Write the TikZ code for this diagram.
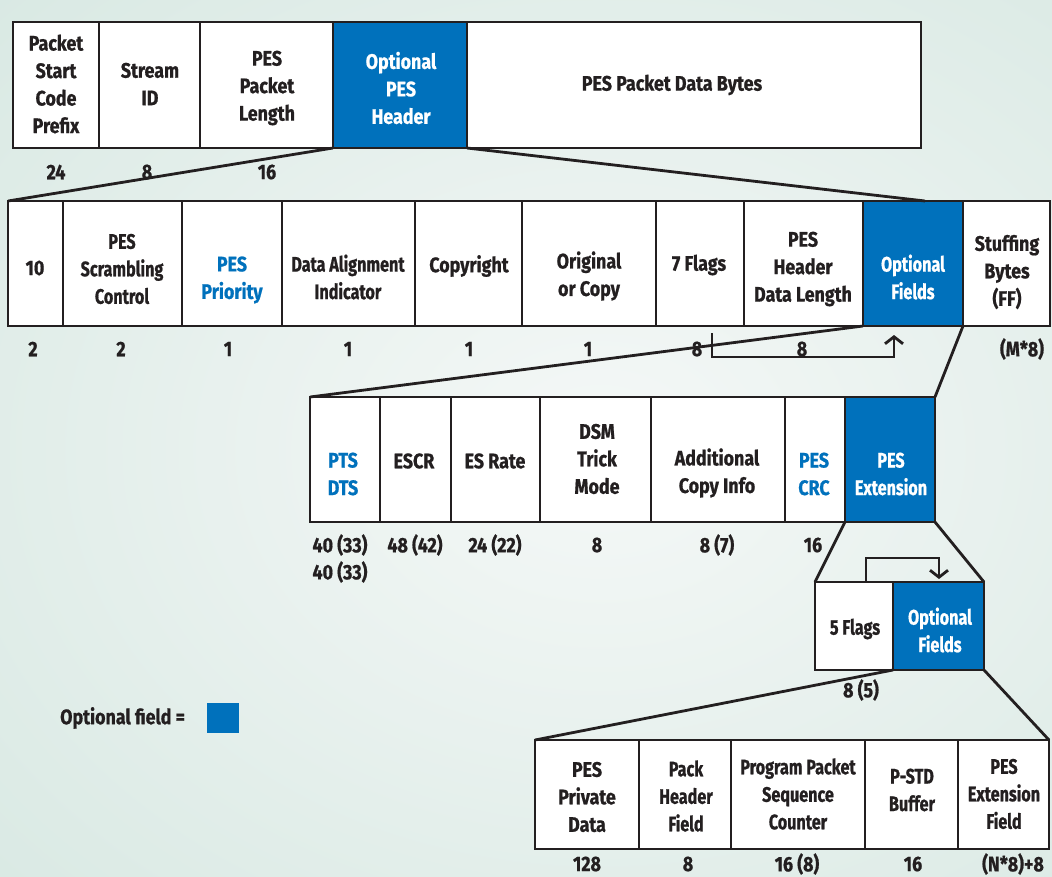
\documentclass[tikz,border=0pt]{standalone}
\usepackage{fontspec}
\setmainfont{Fira Sans}[FakeStretch=0.85, BoldFeatures={FakeBold=0.8}]
\newfontfamily\narrowfam{Fira Sans}[FakeStretch=0.77, BoldFeatures={FakeBold=0.8}]
\usetikzlibrary{arrows.meta}
\definecolor{ink}{HTML}{231F20}
\definecolor{optblue}{HTML}{0071BC}
\definecolor{bgout}{HTML}{D7E8E2}
\definecolor{bgin}{HTML}{F5F8F7}
\begin{document}
\begin{tikzpicture}[x=1pt,y=-1pt,
  box/.style={draw=ink, line width=2.8pt, fill=white, anchor=north west, inner sep=0pt, outer sep=0pt},
  optbox/.style={box, fill=optblue},
  txt/.style={font=\bfseries\fontsize{21}{27.5}\selectfont, text=ink, align=center, inner sep=0pt},
  ntxt/.style={txt, font=\narrowfam\bfseries\fontsize{21}{27.5}\selectfont},
  wtxt/.style={txt, text=white},
  nwtxt/.style={ntxt, text=white},
  btxt/.style={txt, text=optblue},
  zoomline/.style={draw=ink, line width=2.8pt},
  flow/.style={draw=ink, line width=2.8pt, -{Straight Barb[length=7pt,width=18pt]}},
]
\useasboundingbox (0,0) rectangle (1052,876);
\begin{scope}
\clip (0,0) rectangle (1052,876);
\shade[inner color=bgin, outer color=bgout] (-300,-250) rectangle (1500,1150);
\end{scope}

% ---------- Row 1
\node[box, minimum width=86, minimum height=126] (r1a) at (13,22) {};
\node[box, minimum width=101, minimum height=126] (r1b) at (99,22) {};
\node[box, minimum width=133, minimum height=126] (r1c) at (200,22) {};
\node[box, minimum width=454, minimum height=126] (r1d) at (467,22) {};
\node[optbox, minimum width=134, minimum height=126] (r1opt) at (333,22) {};
\node[txt] (t1a) at (56,84) {Packet\\Start\\Code\\Prefix};
\node[txt] (t1b) at (150,84) {Stream\\ID};
\node[txt] (t1c) at (267,88) {PES\\Packet\\Length};
\node[wtxt] (t1opt) at (401,88) {Optional\\PES\\Header};
\node[txt] (t1d) at (672,85) {PES Packet Data Bytes};
\node[txt] (n1a) at (56,172) {24};
\node[txt] (n1b) at (147,172) {8};
\node[txt] (n1c) at (267,172) {16};

% ---------- Row 2
\node[box, minimum width=55, minimum height=125] (r2a) at (8,201) {};
\node[box, minimum width=119, minimum height=125] (r2b) at (63,201) {};
\node[box, minimum width=100, minimum height=125] (r2c) at (182,201) {};
\node[box, minimum width=133, minimum height=125] (r2d) at (282,201) {};
\node[box, minimum width=107, minimum height=125] (r2e) at (415,201) {};
\node[box, minimum width=134, minimum height=125] (r2f) at (522,201) {};
\node[box, minimum width=88, minimum height=125] (r2g) at (656,201) {};
\node[box, minimum width=119, minimum height=125] (r2h) at (744,201) {};
\node[box, minimum width=87, minimum height=125] (r2i) at (963,201) {};
\node[optbox, minimum width=100, minimum height=125] (r2opt) at (863,201) {};
\node[txt] (t2a) at (35,268) {10};
\node[ntxt] (t2b) at (122,269) {PES\\Scrambling\\Control};
\node[btxt] (t2c) at (232,280) {PES\\Priority};
\node[ntxt] (t2d) at (348,277) {Data Alignment\\Indicator};
\node[txt] (t2e) at (469,266) {Copyright};
\node[txt] (t2f) at (589,276) {Original\\or Copy};
\node[txt] (t2g) at (699,265) {7 Flags};
\node[txt] (t2h) at (803,269) {PES\\Header\\Data Length};
\node[nwtxt] (t2opt) at (913,277) {Optional\\Fields};
\node[txt] (t2i) at (1007,272) {Stuffing\\Bytes\\(FF)};
\node[txt] (n2a) at (33,349) {2};
\node[txt] (n2b) at (121,349) {2};
\node[txt] (n2c) at (228,349) {1};
\node[txt] (n2d) at (348,349) {1};
\node[txt] (n2e) at (469,349) {1};
\node[txt] (n2f) at (588,349) {1};
\node[txt] (n2g) at (697,349) {8};
\node[txt] (n2h) at (802,349) {8};
\node[txt] (n2i) at (1022,349) {(M*8)};

% ---------- Row 3
\node[box, minimum width=70, minimum height=125] (r3a) at (310,397) {};
\node[box, minimum width=71, minimum height=125] (r3b) at (380,397) {};
\node[box, minimum width=89, minimum height=125] (r3c) at (451,397) {};
\node[box, minimum width=111, minimum height=125] (r3d) at (540,397) {};
\node[box, minimum width=134, minimum height=125] (r3e) at (651,397) {};
\node[box, minimum width=60, minimum height=125] (r3f) at (785,397) {};
\node[optbox, minimum width=90, minimum height=125] (r3ext) at (845,397) {};
\node[btxt] (t3a) at (343,474) {PTS\\DTS};
\node[txt] (t3b) at (414,461) {ESCR};
\node[txt] (t3c) at (495,461) {ES Rate};
\node[txt] (t3d) at (597,459) {DSM\\Trick\\Mode};
\node[txt] (t3e) at (717,473) {Additional\\Copy Info};
\node[btxt] (t3f) at (814,474) {PES\\CRC};
\node[nwtxt] (t3ext) at (891,474) {PES\\Extension};
\node[txt] (n3a) at (340,545) {40 (33)};
\node[txt] (n3a2) at (340,572) {40 (33)};
\node[txt] (n3b) at (415,545) {48 (42)};
\node[txt] (n3c) at (495,545) {24 (22)};
\node[txt] (n3d) at (597,545) {8};
\node[txt] (n3e) at (717,545) {8 (7)};
\node[txt] (n3f) at (813,545) {16};

% ---------- Row 4
\node[box, minimum width=78, minimum height=88] (r4a) at (815,582) {};
\node[optbox, minimum width=91, minimum height=88] (r4opt) at (893,582) {};
\node[ntxt] (t4a) at (855,629) {5 Flags};
\node[nwtxt] (t4opt) at (940,630) {Optional\\Fields};
\node[txt] (n4a) at (861,690) {8 (5)};

% ---------- Row 5
\node[box, minimum width=104, minimum height=109] (r5a) at (535,740) {};
\node[box, minimum width=92, minimum height=109] (r5b) at (639,740) {};
\node[box, minimum width=134, minimum height=109] (r5c) at (731,740) {};
\node[box, minimum width=93, minimum height=109] (r5d) at (865,740) {};
\node[box, minimum width=91, minimum height=109] (r5e) at (958,740) {};
\node[txt] (t5a) at (587,797) {PES\\Private\\Data};
\node[ntxt] (t5b) at (686,796) {Pack\\Header\\Field};
\node[ntxt] (t5c) at (798,794) {Program Packet\\Sequence\\Counter};
\node[ntxt] (t5d) at (912,790) {P-STD\\Buffer};
\node[ntxt] (t5e) at (1004,794) {PES\\Extension\\Field};
\node[txt] (n5a) at (587,864) {128};
\node[txt] (n5b) at (688,864) {8};
\node[txt] (n5c) at (797,864) {16 (8)};
\node[txt] (n5d) at (913,864) {16};
\node[txt] (n5e) at (1013,864) {(N*8)+8};

% ---------- Legend
\node[txt, anchor=west] (legtxt) at (60,718) {Optional field =};
\node[fill=optblue, anchor=north west, minimum width=32, minimum height=30, inner sep=0pt] (legbox) at (207,703) {};

% ---------- Zoom lines
\coordinate (z2) at (925,201);
\draw[zoomline] (r1opt.south west) -- (r2a.north west);
\draw[zoomline] (r1opt.south east) -- (z2);
\draw[zoomline] (r2opt.south west) -- (r3a.north west);
\draw[zoomline] (r2opt.south east) -- (r3ext.north east);
\draw[zoomline] (r3ext.south west) -- (r4a.north west);
\draw[zoomline] (r3ext.south east) -- (r4opt.north east);
\draw[zoomline] (r4opt.south west) -- (r5a.north west);
\draw[zoomline] (r4opt.south east) -- (r5e.north east);

% ---------- Flag arrows
\coordinate (f1s) at (712,333);
\coordinate (f1e) at (894,335);
\draw[flow] (f1s) -- (712,357) -- (894,357) -- (f1e);
\coordinate (f2s) at (866,582);
\coordinate (f2e) at (939,579);
\draw[flow] (f2s) -- (866,558) -- (939,558) -- (f2e);
\end{tikzpicture}
\end{document}
